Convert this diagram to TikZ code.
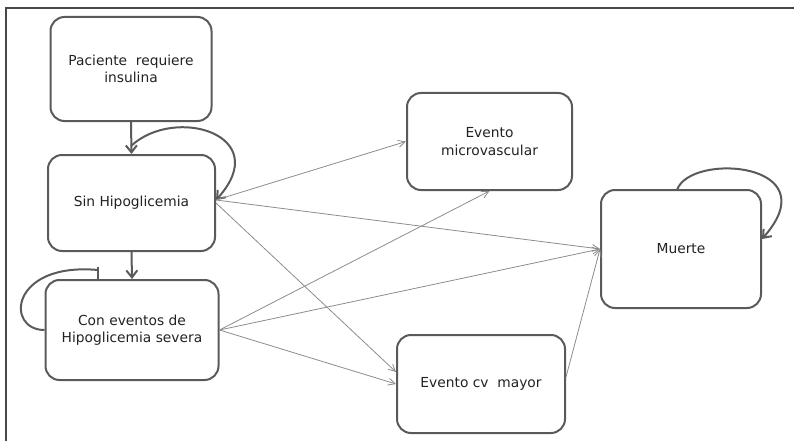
\documentclass[tikz,border=0pt]{standalone}
\usepackage{fontspec}
\setmainfont{DejaVu Sans}
\usetikzlibrary{arrows.meta,calc}
\definecolor{boxc}{HTML}{5A5A5A}
\definecolor{thinc}{HTML}{8C8C8C}
\definecolor{txtc}{HTML}{222222}
\tikzset{
  state/.style={draw=boxc, line width=2pt, rounded corners=14pt, align=center,
    text=txtc, font=\fontsize{13.8}{17.5}\selectfont, inner sep=0pt},
  thick arrow/.style={draw=boxc, line width=2pt, -{Straight Barb[length=7pt,width=11pt]}},
  thin arrow/.style={draw=thinc, line width=0.8pt, -{Straight Barb[length=7pt,width=7pt]}},
  frame/.style={draw=boxc!80!black, line width=1.4pt}
}
\begin{document}
\begin{tikzpicture}[x=1pt,y=-1pt]
\useasboundingbox (0,0) rectangle (794,441);
\draw[frame] (6,441) -- (6,8) -- (794,8);

\node[state, minimum width=161pt, minimum height=104pt] (pac) at (131,69) {Paciente~~requiere\\insulina};
\node[state, minimum width=167pt, minimum height=96pt] (sin) at (131.5,203) {Sin Hipoglicemia};
\node[state, minimum width=173pt, minimum height=100pt] (con) at (132,330) {Con eventos de\\Hipoglicemia severa};
\node[state, minimum width=165pt, minimum height=97pt] (mic) at (489.5,141.5) {Evento\\microvascular};
\node[state, minimum width=168pt, minimum height=98pt] (cv) at (481,384) {Evento cv~~mayor};
\node[state, minimum width=160pt, minimum height=118pt] (mue) at (681,249) {Muerte};

% thick vertical arrows
\draw[thick arrow] (pac.south) -- (sin.north);
\draw[thick arrow] (sin.south) -- (con.north);

% self loops
\coordinate (sinloop) at (131,146);
\coordinate (sinR) at ($(sin.east)+(0,-3)$);
\draw[thick arrow] (sinloop) .. controls (175,105) and (275,135) .. (sinR);

\coordinate (conend) at (98,270);
\draw[draw=boxc, line width=2pt] (con.west) .. controls (5,330) and (10,262) .. (conend);
\coordinate (bartop) at (98,267);
\coordinate (barbot) at (98,279);
\draw[draw=boxc, line width=2pt] (bartop) -- (barbot);

\coordinate (muestart) at (677,190);
\coordinate (mueR) at ($(mue.east)+(0,-10)$);
\draw[thick arrow] (muestart) .. controls (690,152) and (830,162) .. (mueR);

% thin arrows
\coordinate (cvU) at ($(cv.west)+(0,-12)$);
\coordinate (cvR) at ($(cv.east)+(0,-7)$);
\draw[thin arrow] (sinR) -- (mic.west);
\draw[thin arrow] (sinR) -- (mue.west);
\draw[thin arrow] (sin.east) -- (cvU);
\draw[thin arrow] (con.east) -- (mic.south);
\draw[thin arrow] (con.east) -- (mue.west);
\draw[thin arrow] (con.east) -- (cv.west);
\draw[thin arrow] (cvR) -- (mue.west);
\end{tikzpicture}
\end{document}
